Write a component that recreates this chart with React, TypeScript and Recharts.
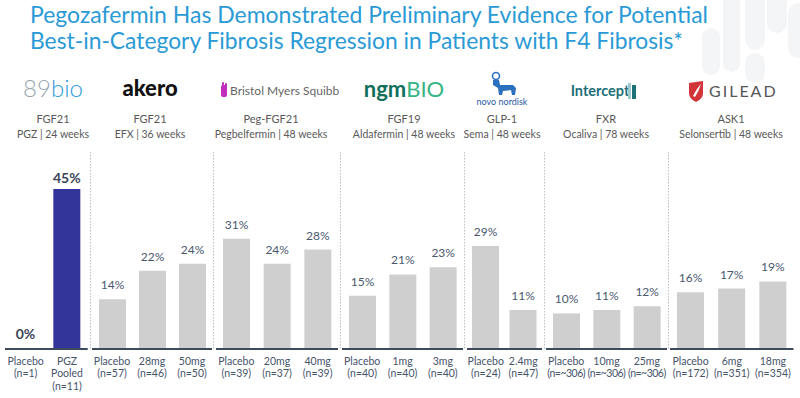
import React from 'react';
import { BarChart, Bar, XAxis, YAxis, Cell, LabelList } from 'recharts';

// ---------- data ----------
const titleLines = [
  'Pegozafermin Has Demonstrated Preliminary Evidence for Potential',
  'Best-in-Category Fibrosis Regression in Patients with F4 Fibrosis*',
];
const groupMechanism = ['FGF21', 'FGF21', 'Peg-FGF21', 'FGF19', 'GLP-1', 'FXR', 'ASK1'];
const groupDrug = [
  'PGZ | 24 weeks',
  'EFX | 36 weeks',
  'Pegbelfermin | 48 weeks',
  'Aldafermin | 48 weeks',
  'Sema | 48 weeks',
  'Ocaliva | 78 weeks',
  'Selonsertib | 48 weeks',
];
const barGroup = [0, 0, 1, 1, 1, 2, 2, 2, 3, 3, 3, 4, 4, 5, 5, 5, 6, 6, 6];
const barDose = [
  'Placebo', 'PGZ Pooled',
  'Placebo', '28mg', '50mg',
  'Placebo', '20mg', '40mg',
  'Placebo', '1mg', '3mg',
  'Placebo', '2.4mg',
  'Placebo', '10mg', '25mg',
  'Placebo', '6mg', '18mg',
];
const barN = [
  'n=1', 'n=11',
  'n=57', 'n=46', 'n=50',
  'n=39', 'n=37', 'n=39',
  'n=40', 'n=40', 'n=40',
  'n=24', 'n=47',
  'n=~306', 'n=~306', 'n=~306',
  'n=172', 'n=351', 'n=354',
];
const barValues = [0, 45, 14, 22, 24, 31, 24, 28, 15, 21, 23, 29, 11, 10, 11, 12, 16, 17, 19];

// ---------- layout ----------
const GROUP_X = [5, 92, 216, 342, 467, 546, 670];
const GROUP_W = [82.7, 120, 122, 121, 75, 121, 123.5];
const HEADER_CX = [53, 150, 271, 404, 502, 606, 731];
const DIVIDER_X = [90.5, 213.5, 340.5, 464.5, 544.5, 668.5];

const FONT = 'Lato, "Open Sans", sans-serif';
const TEXT = '#46546a';
const HEAD_TEXT = '#595959';

const Tick = (props: any) => {
  const { x, y, payload } = props;
  const i = Number(payload.value);
  const lines = [...barDose[i].split(' '), `(${barN[i]})`];
  return (
    <text x={x} y={y} textAnchor="middle" fill={TEXT} fontSize={10.5} fontFamily={FONT}>
      {lines.map((l, k) => (
        <tspan key={k} x={x} dy={k === 0 ? 16 : 12.3} letterSpacing={l.length > 7 ? -0.5 : 0}>
          {l}
        </tspan>
      ))}
    </text>
  );
};

const makeLabel = (bold: boolean) => (props: any) => {
  const { x, y, width, value } = props;
  const zero = Number(value) === 0;
  return (
    <text
      x={Number(x) + Number(width) / 2}
      y={Number(y) - (bold ? (zero ? 10 : 6) : 10)}
      textAnchor="middle"
      fontSize={bold ? 14 : 12}
      fontWeight={bold ? 700 : 400}
      fill={bold ? '#3a4458' : '#4a5870'}
      fontFamily={FONT}
    >
      {value}%
    </text>
  );
};

function rowsFor(g: number) {
  return barValues
    .map((v, i) => ({ key: String(i), value: v, highlight: barDose[i].startsWith('PGZ'), g: barGroup[i] }))
    .filter((r) => r.g === g);
}

const Logo = ({ g }: { g: number }) => {
  const cx = HEADER_CX[g];
  switch (g) {
    case 0:
      return (
        <text x={cx} y={97} textAnchor="middle" fontFamily={FONT} fontSize={24} fontWeight={300}>
          <tspan fill="#97a5b0">89</tspan>
          <tspan fill="#2e9ad8">bio</tspan>
        </text>
      );
    case 1:
      return (
        <text x={cx} y={96} textAnchor="middle" fontFamily={FONT} fontSize={22} fontWeight={900} fill="#111">
          akero
        </text>
      );
    case 2:
      return (
        <g>
          <rect x={221} y={85} width={6} height={12} rx={2} fill="#c22fbf" />
          <rect x={222} y={82} width={2} height={5} rx={1} fill="#c22fbf" />
          <rect x={225} y={83} width={2} height={5} rx={1} fill="#c22fbf" />
          <text x={230} y={95} fontFamily={FONT} fontSize={12} fill="#666">
            Bristol Myers Squibb
          </text>
        </g>
      );
    case 3:
      return (
        <text x={cx} y={97} textAnchor="middle" fontFamily={FONT} fontSize={22}>
          <tspan fill="#11705c" fontWeight={700}>ngm</tspan>
          <tspan fill="#35b584" fontWeight={400}>BIO</tspan>
        </text>
      );
    case 4:
      return (
        <g>
          <circle cx={496} cy={76} r={3.5} fill="none" stroke="#2a6fc0" strokeWidth={1.6} />
          <path d="M493 80 L499 80 L500 85 L513 85 L516 88 L515 95 L512 95 L511 90 L503 91 L502 95 L499 95 L498 88 L493 85 Z" fill="#2a6fc0" />
          <text x={502} y={105} textAnchor="middle" fontFamily={FONT} fontSize={9} fill="#2a5aa8">
            novo nordisk
          </text>
        </g>
      );
    case 5:
      return (
        <g>
          <text x={600} y={96} textAnchor="middle" fontFamily={FONT} fontSize={14.5} fontWeight={700} fill="#1d6f78">
            Intercept
          </text>
          <rect x={628} y={83} width={3} height={16} fill="#9fc9cc" />
          <rect x={632} y={85} width={4} height={14} fill="#1d6f78" />
        </g>
      );
    default:
      return (
        <g>
          <path d="M689 83 L703 81 L703 93 Q703 99 696 102 Q689 99 689 93 Z" fill="#d3343a" />
          <path d="M693 96 Q697 88 701 84 Q699 91 695 97 Z" fill="#ffffff" />
          <text x={709} y={97} fontFamily={FONT} fontSize={16} letterSpacing={2} fill="#555">
            GILEAD
          </text>
        </g>
      );
  }
};

export default function App() {
  return (
    <div
      style={{
        position: 'absolute',
        left: 0,
        top: 0,
        width: 800,
        height: 398,
        background: '#ffffff',
        overflow: 'hidden',
        fontFamily: FONT,
      }}
    >
      <svg width={800} height={398} style={{ position: 'absolute', left: 0, top: 0 }}>
        {/* faint background decoration */}
        <g fill="#f4f5f6">
          <rect x={702} y={28} width={18} height={47} rx={9} />
          <rect x={723} y={-10} width={17} height={82} rx={8.5} />
          <rect x={745} y={-10} width={20} height={60} rx={10} />
          <rect x={745} y={53} width={20} height={30} rx={10} />
          <rect x={767} y={-10} width={20} height={43} rx={10} />
          <rect x={788} y={3} width={20} height={55} rx={10} />
        </g>
        {/* title */}
        <text x={30} y={23} fontFamily={FONT} fontSize={23} fill="#2a9ad6" textLength={678} lengthAdjust="spacingAndGlyphs">
          {titleLines[0]}
        </text>
        <text x={30} y={49} fontFamily={FONT} fontSize={23} fill="#2a9ad6" textLength={653} lengthAdjust="spacingAndGlyphs">
          {titleLines[1]}
        </text>
        {/* group headers */}
        {groupMechanism.map((m, g) => (
          <g key={g}>
            <Logo g={g} />
            <text x={HEADER_CX[g]} y={123} textAnchor="middle" fontFamily={FONT} fontSize={11} fill={HEAD_TEXT}>
              {m}
            </text>
            <text x={HEADER_CX[g]} y={138} textAnchor="middle" fontFamily={FONT} fontSize={10.5} fill={HEAD_TEXT}>
              {groupDrug[g]}
            </text>
          </g>
        ))}
        {/* dividers */}
        {DIVIDER_X.map((x, k) => (
          <line key={k} x1={x} x2={x} y1={152} y2={349} stroke="#b9c0c8" strokeWidth={1} strokeDasharray="1.5 1.5" />
        ))}
      </svg>
      {groupMechanism.map((_, g) => {
        const rows = rowsFor(g);
        return (
          <div key={g} style={{ position: 'absolute', left: GROUP_X[g] - 10, top: 140 }}>
            <BarChart
              width={GROUP_W[g] + 20}
              height={258}
              data={rows}
              margin={{ top: 10, right: 10, left: 10, bottom: 0 }}
            >
              <XAxis
                dataKey="key"
                axisLine={{ stroke: '#3d4a5c', strokeWidth: 2 }}
                tickLine={false}
                tickSize={0}
                tickMargin={0}
                interval={0}
                height={49}
                tick={<Tick />}
              />
              <YAxis hide domain={[0, 56]} />
              <Bar dataKey="value" barSize={27} minPointSize={0.01} isAnimationActive={false}>
                {rows.map((r) => (
                  <Cell key={r.key} fill={r.highlight ? '#33359a' : '#d0cfcf'} />
                ))}
                <LabelList dataKey="value" content={makeLabel(g === 0)} />
              </Bar>
            </BarChart>
          </div>
        );
      })}
    </div>
  );
}
